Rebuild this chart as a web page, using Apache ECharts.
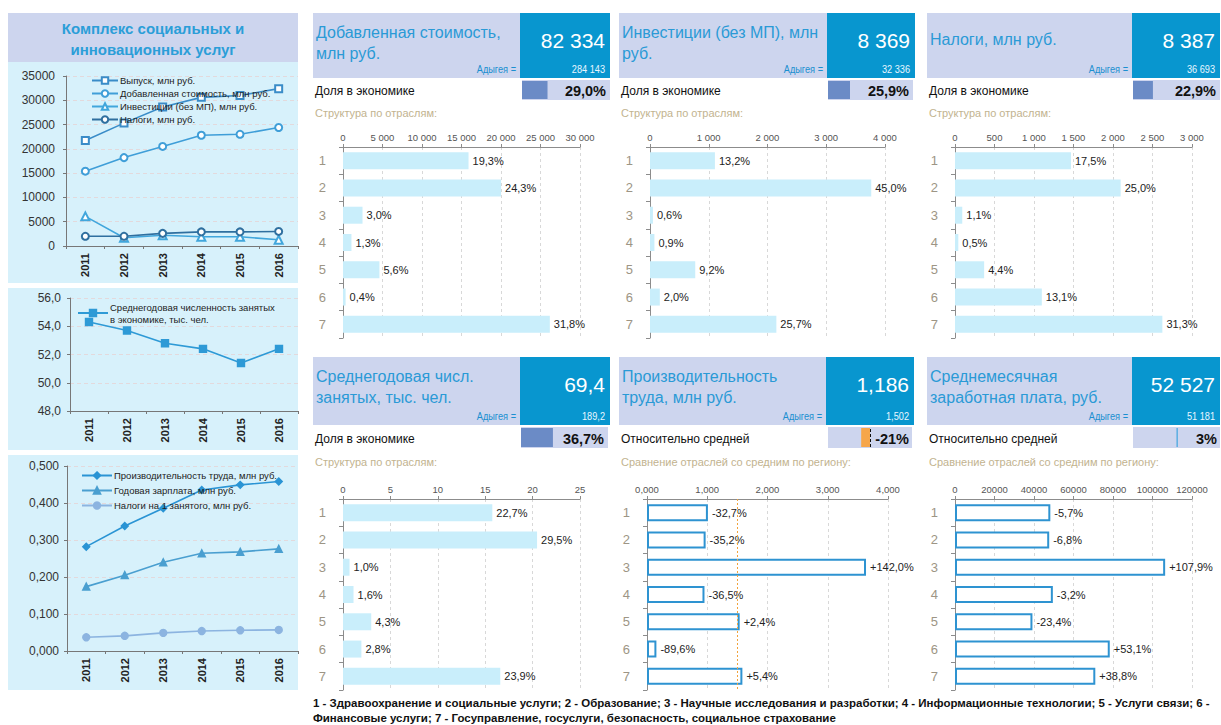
<!DOCTYPE html>
<html>
<head>
<meta charset="utf-8">
<script src="https://cdn.jsdelivr.net/npm/echarts@6.0.0/dist/echarts.min.js"></script>
<style>
  html, body { margin: 0; padding: 0; background: #fff; }
  #main { width: 1221px; height: 725px; }
</style>
</head>
<body>
<div id="main"></div>
<script>
// годы для левых графиков
var years = ['2011', '2012', '2013', '2014', '2015', '2016'];
var vypusk = [21700, 25300, 28600, 30600, 31000, 32400];
var dobStoim = [15400, 18200, 20500, 22800, 23000, 24400];
var investLine = [6100, 1700, 2200, 1900, 1900, 1300];
var nalogiLine = [2000, 2000, 2600, 2900, 2900, 3000];
var zanyatye = [54.3, 53.7, 52.8, 52.4, 51.4, 52.4];
var proizvod = [0.282, 0.338, 0.386, 0.435, 0.449, 0.458];
var zarplataGod = [0.174, 0.205, 0.240, 0.264, 0.268, 0.276];
var nalogiNaZan = [0.037, 0.041, 0.049, 0.054, 0.056, 0.057];

// отрасли 1..7
var branches = ['1', '2', '3', '4', '5', '6', '7'];
var dsValues = [15890, 20010, 2470, 1070, 4610, 330, 26180];
var dsLabels = ['19,3%', '24,3%', '3,0%', '1,3%', '5,6%', '0,4%', '31,8%'];
var invValues = [1105, 3766, 50, 75, 770, 167, 2151];
var invLabels = ['13,2%', '45,0%', '0,6%', '0,9%', '9,2%', '2,0%', '25,7%'];
var taxValues = [1468, 2097, 92, 42, 369, 1099, 2625];
var taxLabels = ['17,5%', '25,0%', '1,1%', '0,5%', '4,4%', '13,1%', '31,3%'];
var empValues = [15.75, 20.47, 0.69, 1.11, 2.98, 1.94, 16.59];
var empLabels = ['22,7%', '29,5%', '1,0%', '1,6%', '4,3%', '2,8%', '23,9%'];
var prodValues = [1.011, 0.973, 3.635, 0.954, 1.538, 0.156, 1.583];
var prodLabels = ['-32,7%', '-35,2%', '+142,0%', '-36,5%', '+2,4%', '-89,6%', '+5,4%'];
var prodAvg = 1.502;
var wageValues = [48264, 47701, 106405, 49543, 39205, 78358, 71039];
var wageLabels = ['-5,7%', '-6,8%', '+107,9%', '-3,2%', '-23,4%', '+53,1%', '+38,8%'];

// доли в экономике и отклонения от средней
var shares = [29.0, 25.9, 22.9, 36.7];
var shareTexts = ['29,0%', '25,9%', '22,9%', '36,7%'];
var relValues = [-21, 3];
var relTexts = ['-21%', '3%'];

var FONT = '"Liberation Sans", Arial, sans-serif';
var grids = [], xAxes = [], yAxes = [], series = [], legends = [], graphics = [];

function rect(x, y, w, h, color) {
  graphics.push({ type: 'rect', z: -10, silent: true, shape: { x: x, y: y, width: w, height: h }, style: { fill: color } });
}
function txt(s, x, y, o) {
  o = o || {};
  graphics.push({
    type: 'text', z: 10, silent: true,
    x: x, y: y, scaleX: o.scaleX || 1,
    style: {
      text: s, x: 0, y: 0, fill: o.color || '#111',
      font: (o.weight || 'normal') + ' ' + (o.size || 12) + 'px ' + FONT,
      textAlign: o.align || 'left', align: o.align || 'left',
      textVerticalAlign: 'middle', verticalAlign: 'middle'
    }
  });
}
function spaced(v) { return String(v).replace(/\B(?=(\d{3})+(?!\d))/g, ' '); }
function comma(d) { return function (v) { return v.toFixed(d).replace('.', ','); }; }

// ---- левая панель: три линейных графика ----
function lineGrid(left, top, width, height, min, max, interval, fmt, margin) {
  var i = grids.length;
  grids.push({ left: left, top: top, width: width, height: height });
  xAxes.push({
    gridIndex: i, type: 'category', data: years,
    axisLine: { lineStyle: { color: '#777' } },
    axisTick: { show: true, length: 3, lineStyle: { color: '#777' } },
    axisLabel: { rotate: 90, fontSize: 11, fontWeight: 'bold', color: '#222', margin: 7, fontFamily: FONT }
  });
  yAxes.push({
    gridIndex: i, type: 'value', min: min, max: max, interval: interval,
    axisLine: { show: true, lineStyle: { color: '#777' } },
    axisTick: { show: true, length: 3, lineStyle: { color: '#777' } },
    axisLabel: { fontSize: 12, color: '#333', margin: margin, formatter: fmt, fontFamily: FONT },
    splitLine: { show: true, lineStyle: { type: [4, 3], color: '#e3d9dc' } }
  });
  return i;
}
function addLine(gi, name, data, color, symbol, size) {
  series.push({
    type: 'line', name: name, xAxisIndex: gi, yAxisIndex: gi, data: data,
    symbol: symbol, symbolSize: size, color: color,
    lineStyle: { width: 1.6, color: color },
    itemStyle: { color: color, borderColor: color, borderWidth: 1.4 }
  });
}

var g0 = lineGrid(66, 76, 232, 170, 0, 35000, 5000, function (v) { return String(v); }, 11);
addLine(g0, 'Выпуск, млн руб.', vypusk, '#3a8cc8', 'emptyRect', 7);
addLine(g0, 'Добавленная стоимость, млн руб.', dobStoim, '#3f9ed8', 'emptyCircle', 7);
addLine(g0, 'Инвестиции (без МП), млн руб.', investLine, '#41a6dc', 'emptyTriangle', 8);
addLine(g0, 'Налоги, млн руб.', nalogiLine, '#2f6f9f', 'emptyCircle', 7);
legends.push({
  orient: 'vertical', left: 86, top: 70, itemGap: 2, itemWidth: 26, itemHeight: 8,
  data: ['Выпуск, млн руб.', 'Добавленная стоимость, млн руб.', 'Инвестиции (без МП), млн руб.', 'Налоги, млн руб.'],
  textStyle: { fontSize: 9.5, color: '#222', fontFamily: FONT, lineHeight: 11, padding: [0, 0, 0, -3] }
});

var g1 = lineGrid(70, 298, 228, 113, 48, 56, 2, comma(1), 9);
addLine(g1, 'Среднегодовая численность занятых\nв экономике, тыс. чел.', zanyatye, '#2e9ad6', 'rect', 7);
legends.push({
  left: 72, top: 296, itemWidth: 30, itemHeight: 8,
  data: ['Среднегодовая численность занятых\nв экономике, тыс. чел.'],
  textStyle: { fontSize: 9.5, color: '#222', fontFamily: FONT, lineHeight: 12, padding: [0, 0, 0, -3] }
});

var g2 = lineGrid(67, 466, 231, 185, 0, 0.5, 0.1, comma(3), 8);
addLine(g2, 'Производительность труда, млн руб.', proizvod, '#2a94d4', 'diamond', 7);
addLine(g2, 'Годовая зарплата, млн руб.', zarplataGod, '#4a9fd0', 'triangle', 7);
addLine(g2, 'Налоги на 1 занятого, млн руб.', nalogiNaZan, '#8cb4e0', 'circle', 7);
legends.push({
  orient: 'vertical', left: 76, top: 465, itemGap: 4, itemWidth: 30, itemHeight: 8,
  data: ['Производительность труда, млн руб.', 'Годовая зарплата, млн руб.', 'Налоги на 1 занятого, млн руб.'],
  textStyle: { fontSize: 9.5, color: '#222', fontFamily: FONT, lineHeight: 11, padding: [0, 0, 0, -3] }
});

// фон левой панели
rect(8, 13, 290, 49, '#cdd5ee');
rect(8, 62, 290, 221, '#d7f1fb');
rect(8, 288, 290, 162, '#d7f1fb');
rect(8, 455, 290, 235, '#d7f1fb');
txt('Комплекс социальных и', 153, 28, { size: 15, weight: 'bold', color: '#2b9ed8', align: 'center' });
txt('инновационных услуг', 153, 49, { size: 15, weight: 'bold', color: '#2b9ed8', align: 'center' });

// ---- карточки справа ----
function barCard(left, top, width, max, interval, fmt, values, labels, hollow, avg) {
  var i = grids.length;
  grids.push({ left: left, top: top, width: width, height: 191 });
  xAxes.push({
    gridIndex: i, type: 'value', position: 'top', min: 0, max: max, interval: interval,
    axisLine: { show: true, lineStyle: { color: '#8c8c8c' } },
    axisTick: { show: true, length: 3, lineStyle: { color: '#8c8c8c' } },
    axisLabel: { fontSize: 9.5, color: '#555', margin: 5, formatter: fmt, fontFamily: FONT },
    splitLine: { show: true, lineStyle: { type: [3, 3], color: '#d8d8d8' } }
  });
  yAxes.push({
    gridIndex: i, type: 'category', data: branches, inverse: true,
    axisLine: { show: true, lineStyle: { color: '#8c8c8c' } },
    axisTick: { show: true, length: 4, lineStyle: { color: '#8c8c8c' } },
    axisLabel: { fontSize: 13, color: '#9d9585', margin: 17, fontFamily: FONT }
  });
  var s = {
    type: 'bar', xAxisIndex: i, yAxisIndex: i, data: values, barWidth: 17,
    itemStyle: hollow ? { color: '#ffffff', borderColor: '#2e93d1', borderWidth: 2 } : { color: '#c9eefb' },
    label: {
      show: true, position: 'right', distance: 4, fontSize: 11, color: '#222', fontFamily: FONT,
      formatter: function (p) { return labels[p.dataIndex]; }
    }
  };
  if (avg !== undefined) {
    s.markLine = {
      silent: true, symbol: ['none', 'none'], label: { show: false },
      lineStyle: { color: '#f2a33c', type: [2, 2], width: 1 },
      data: [{ xAxis: avg }]
    };
  }
  series.push(s);
}

function miniBar(x, y, w, h, min, value, color, zeroLine) {
  var i = grids.length;
  grids.push({ left: x, top: y + 1, width: w, height: h - 2 });
  xAxes.push({ gridIndex: i, type: 'value', min: min, max: 100, show: false });
  yAxes.push({ gridIndex: i, type: 'category', data: ['v'], show: false });
  var s = {
    type: 'bar', xAxisIndex: i, yAxisIndex: i, data: [value], barWidth: '100%', silent: true,
    itemStyle: { color: color }
  };
  if (zeroLine) {
    s.markLine = {
      silent: true, symbol: ['none', 'none'], label: { show: false },
      lineStyle: { color: '#111', type: [3, 2], width: 1 },
      data: [{ xAxis: 0 }]
    };
  }
  series.push(s);
}

function header(lx, bx, bw, y, h, lines, value, regionVal) {
  rect(lx, y, bx - lx, h, '#cdd5ee');
  rect(bx, y, bw, h, '#0896cf');
  var cy = y + h / 2;
  if (lines.length === 1) {
    txt(lines[0], lx + 3, cy - 6, { size: 16, color: '#2a9ad6' });
  } else {
    txt(lines[0], lx + 3, y + 19, { size: 16, color: '#2a9ad6' });
    txt(lines[1], lx + 3, y + 40, { size: 16, color: '#2a9ad6' });
  }
  txt('Адыгея =', bx - 4, y + h - 9, { size: 10, color: '#1b8fd0', align: 'right', scaleX: 0.92 });
  txt(value, bx + bw - 5, y + 27, { size: 21, color: '#ffffff', align: 'right' });
  txt(regionVal, bx + bw - 5, y + h - 9, { size: 10, color: '#e8f6ff', align: 'right', scaleX: 0.92 });
}

// верхний ряд
header(313, 520, 90, 13, 65, ['Добавленная стоимость,', 'млн руб.'], '82 334', '284 143');
header(619, 827, 88, 13, 65, ['Инвестиции (без МП), млн', 'руб.'], '8 369', '32 336');
header(927, 1132, 88, 13, 65, ['Налоги, млн руб.'], '8 387', '36 693');
// нижний ряд
header(313, 520, 90, 357, 68, ['Среднегодовая числ.', 'занятых, тыс. чел.'], '69,4', '189,2');
header(619, 826, 88, 357, 68, ['Производительность', 'труда, млн руб.'], '1,186', '1,502');
header(927, 1132, 88, 357, 68, ['Среднемесячная', 'заработная плата, руб.'], '52 527', '51 181');

// строки "Доля в экономике" / "Относительно средней"
var rowBoxes = [
  [522, 80, 88, 20], [828, 80, 85, 20], [1133, 80, 87, 20], [521, 427, 87, 21]
];
var rowTextX = [315, 621, 929, 315];
for (var k = 0; k < 4; k++) {
  var b = rowBoxes[k];
  rect(b[0], b[1], b[2], b[3], '#cdd5ee');
  miniBar(b[0], b[1], b[2], b[3], 0, shares[k], '#6b8bc6', false);
  txt(shareTexts[k], b[0] + b[2] - 4, b[1] + b[3] / 2 + 1, { size: 14.5, weight: 'bold', color: '#111', align: 'right' });
  txt('Доля в экономике', rowTextX[k], b[1] + b[3] / 2 + 1, { size: 12, color: '#111' });
}
var relBoxes = [[828, 427, 84, 21], [1133, 427, 87, 21]];
var relTextX = [621, 929];
var relColors = ['#f6a64a', '#4aa8e0'];
for (var m = 0; m < 2; m++) {
  var r = relBoxes[m];
  rect(r[0], r[1], r[2], r[3], '#cdd5ee');
  miniBar(r[0], r[1], r[2], r[3], -100, relValues[m], relColors[m], m === 0);
  txt(relTexts[m], r[0] + r[2] - 3, r[1] + r[3] / 2 + 1, { size: 14.5, weight: 'bold', color: '#111', align: 'right' });
  txt('Относительно средней', relTextX[m], r[1] + r[3] / 2 + 1, { size: 12, color: '#111' });
}

txt('Структура по отраслям:', 315, 113, { size: 11, color: '#c2b38f' });
txt('Структура по отраслям:', 621, 113, { size: 11, color: '#c2b38f' });
txt('Структура по отраслям:', 929, 113, { size: 11, color: '#c2b38f' });
txt('Структура по отраслям:', 315, 462, { size: 11, color: '#c2b38f' });
txt('Сравнение отраслей со средним по региону:', 621, 462, { size: 11, color: '#c2b38f' });
txt('Сравнение отраслей со средним по региону:', 929, 462, { size: 11, color: '#c2b38f' });

barCard(343, 147, 237, 30000, 5000, spaced, dsValues, dsLabels, false);
barCard(650, 147, 235, 4000, 1000, spaced, invValues, invLabels, false);
barCard(955, 147, 237, 3000, 500, spaced, taxValues, taxLabels, false);
barCard(343, 499, 237, 25, 5, function (v) { return String(v); }, empValues, empLabels, false);
barCard(647, 499, 241, 4, 1, comma(3), prodValues, prodLabels, true, prodAvg);
barCard(955, 499, 237, 120000, 20000, function (v) { return String(v); }, wageValues, wageLabels, true);

txt('1 - Здравоохранение и социальные услуги; 2 - Образование; 3 - Научные исследования и разработки; 4 - Информационные технологии; 5 - Услуги связи; 6 -',
  313, 703, { size: 10, weight: 'bold', color: '#111', scaleX: 1.15 });
txt('Финансовые услуги; 7 - Госуправление, госуслуги, безопасность, социальное страхование',
  313, 718, { size: 10, weight: 'bold', color: '#111', scaleX: 1.15 });

var option = {
  animation: false,
  backgroundColor: '#ffffff',
  textStyle: { fontFamily: FONT },
  grid: grids,
  xAxis: xAxes,
  yAxis: yAxes,
  legend: legends,
  series: series,
  graphic: graphics
};

var chart = echarts.init(document.getElementById('main'), null, { renderer: 'svg', width: 1221, height: 725 });
chart.setOption(option);
</script>
</body>
</html>
